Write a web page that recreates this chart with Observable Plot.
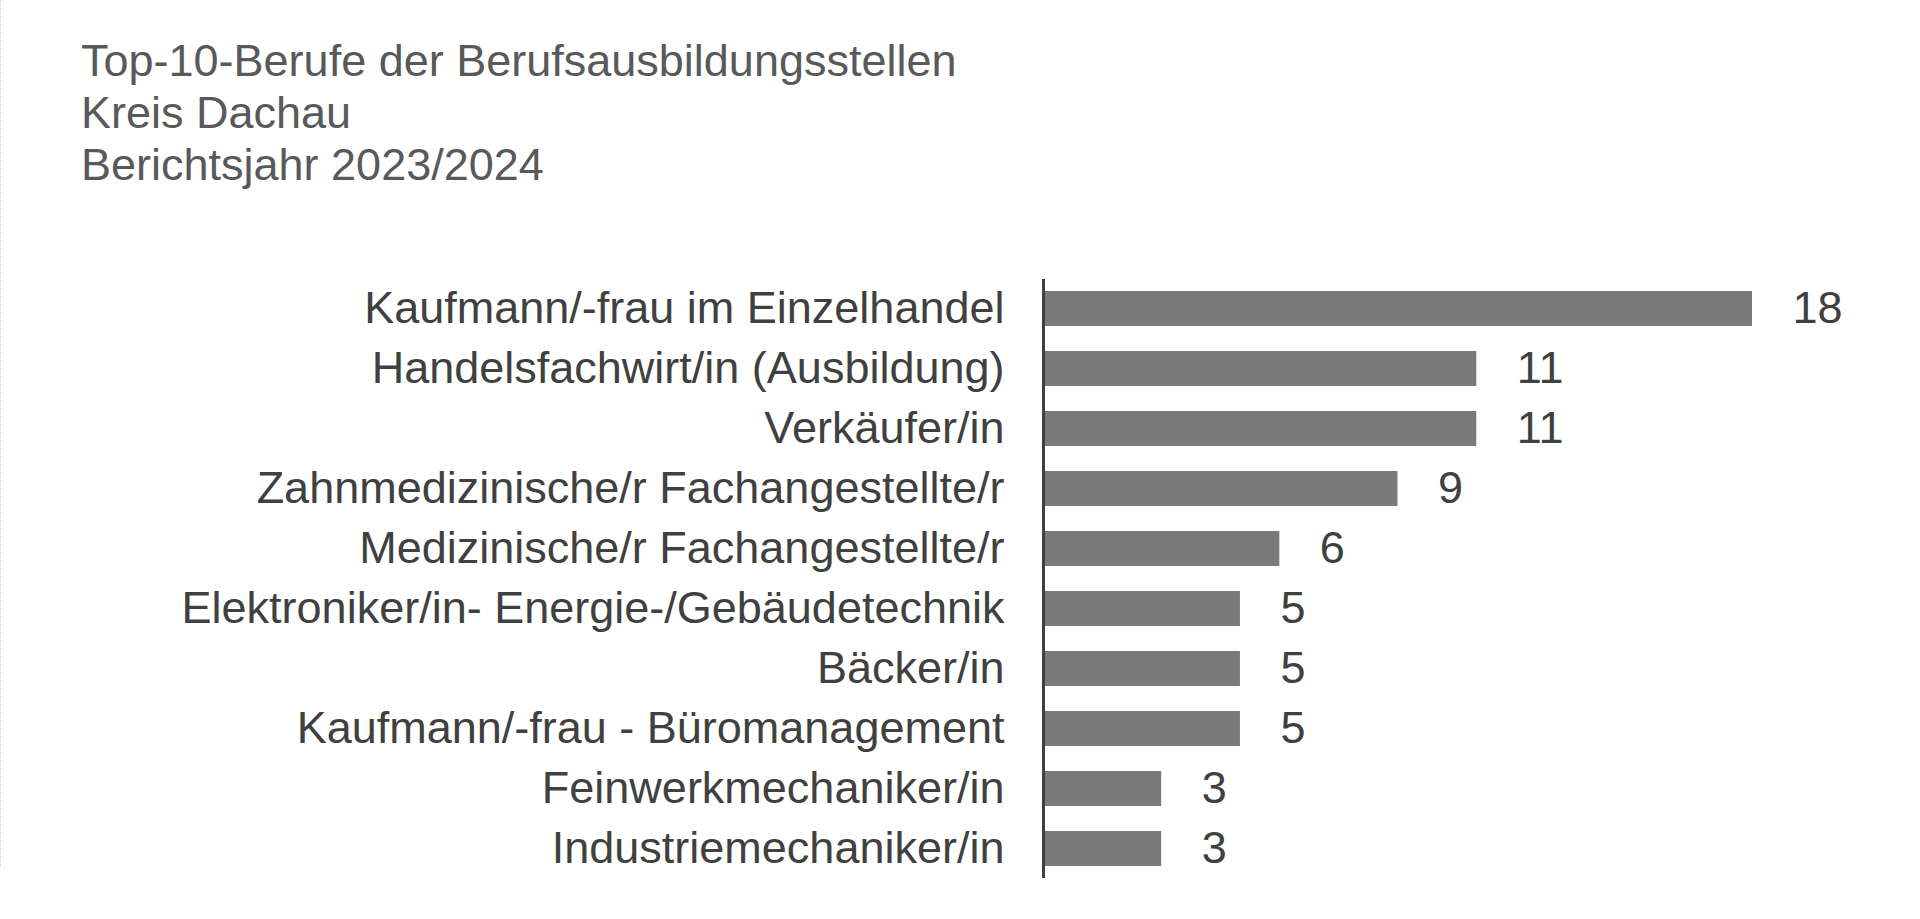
<!DOCTYPE html>
<html>
<head>
<meta charset="utf-8">
<script src="https://cdn.jsdelivr.net/npm/d3@7"></script>
<script src="https://cdn.jsdelivr.net/npm/@observablehq/plot@0.6"></script>
<style>
  html, body { margin: 0; padding: 0; background: #fff; }
  body { width: 1920px; height: 919px; overflow: hidden; font-family: "Liberation Sans", Arial, sans-serif; }
  #frame { position: absolute; left: 0; top: 0; width: 1920px; height: 867px; border-left: 1px dotted #c8c8c8; box-sizing: border-box; }
  #title { position: absolute; left: 81px; top: 35px; font-size: 45px; line-height: 52px; color: #595959; }
  #chart { position: absolute; left: 0; top: 200px; }
</style>
</head>
<body>
<div id="frame"></div>
<div id="title">Top-10-Berufe der Berufsausbildungsstellen<br>Kreis Dachau<br>Berichtsjahr 2023/2024</div>
<div id="chart"></div>
<script>
const berufe = [
  "Kaufmann/-frau im Einzelhandel",
  "Handelsfachwirt/in (Ausbildung)",
  "Verkäufer/in",
  "Zahnmedizinische/r Fachangestellte/r",
  "Medizinische/r Fachangestellte/r",
  "Elektroniker/in- Energie-/Gebäudetechnik",
  "Bäcker/in",
  "Kaufmann/-frau - Büromanagement",
  "Feinwerkmechaniker/in",
  "Industriemechaniker/in"
];
const stellen = [18, 11, 11, 9, 6, 5, 5, 5, 3, 3];

const data = berufe.map((b, i) => ({beruf: b, wert: stellen[i]}));

const chart = Plot.plot({
  width: 1920,
  height: 719,
  marginTop: 79,
  marginBottom: 41,
  marginLeft: 1043,
  marginRight: 168,
  style: {fontFamily: "Liberation Sans, Arial, sans-serif", color: "#404040", background: "transparent"},
  x: {domain: [0, 18], axis: null},
  y: {domain: berufe, paddingInner: 0.418, paddingOuter: 0.188, label: null},
  marks: [
    Plot.barX(data, {x: "wert", y: "beruf", fill: "#7a7a7a"}),
    Plot.ruleX([0], {stroke: "#404040", strokeWidth: 3}),
    Plot.axisY({tickSize: 0, tickPadding: 39, fontSize: 45, label: null, fill: "#404040"}),
    Plot.text(data, {x: "wert", y: "beruf", text: d => String(d.wert), dx: 40, textAnchor: "start", fontSize: 45, fill: "#404040"})
  ]
});
document.getElementById("chart").appendChild(chart);
</script>
</body>
</html>
